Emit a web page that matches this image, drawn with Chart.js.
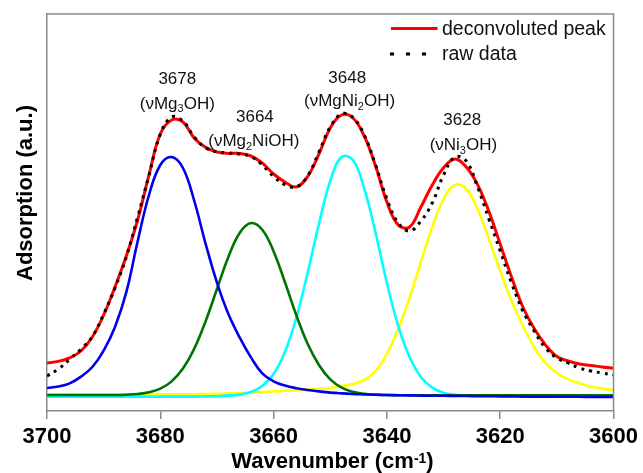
<!DOCTYPE html>
<html><head><meta charset="utf-8">
<script src="https://cdn.jsdelivr.net/npm/chart.js@4.4.1/dist/chart.umd.min.js"></script>
<style>html,body{margin:0;padding:0;background:#fff}#wrap{width:643px;height:473px}</style>
</head><body><div id="wrap"><canvas id="c" width="643" height="473"></canvas></div>
<script>
// ---- data (absorbance in a.u.) ----
const wavenumbers = [3700,3698,3696,3694,3692,3690,3688,3686,3684,3682,3680,3678,3676,3674,3672,3670,3668,3666,3664,3662,3660,3658,3656,3654,3652,3650,3648,3646,3644,3642,3640,3638,3636,3634,3632,3630,3628,3626,3624,3622,3620,3618,3616,3614,3612,3610,3608,3606,3604,3602,3600];
const rawData = [8.75,10.5,12.9,15.5,18.6,24.25,30.75,38.5,48.5,58.9,69.2,73.5,72.5,68.5,65.8,64.8,64.5,64.25,63.6,61.5,58.6,56.6,56,58.75,64.75,71,74.3,73.4,69,61.5,53,47,45,47.5,52,59,63.5,62.5,56,48,40,32,25,20,15.75,13.25,12,10.75,10,9.5,9];
const fitSum = [12,12.4,13.3,15.0,18.5,24.0,31.0,38.75,47.75,59,69.25,72.75,72.25,68.2,65.9,64.75,64.4,64.4,63.75,62,59.25,57.25,56,58.6,64.25,70.75,74,73.25,68.75,61.25,52.25,46.5,46,51,56.5,60.8,63,61,56.6,49.9,41.7,33.5,26,20.6,16.5,13.6,12.5,11.75,11.4,11,10.7];
const peakMg3OH = [5.75,6.1,6.9,8.6,11,15.1,21,29.7,42.4,54,61.5,63.5,60.75,52.5,41.8,32.1,24.3,18.4,13.4,9.4,7.4,6.35,5.7,5.25,4.9,4.6,4.4,4.25,4.15,4.05,4.0,3.95,3.9,3.85,3.8,3.8,3.75,3.75,3.7,3.7,3.65,3.65,3.6,3.6,3.6,3.55,3.55,3.55,3.5,3.5,3.5];
const peakMg2NiOH = [4.0,4.0,4.0,4.0,4.0,4.0,4.0,4.08,4.25,4.68,5.58,7.4,10.6,15.6,22.45,30.5,38.45,44.5,47,45.3,39.9,32.2,24,16.8,11.5,7.9,5.85,4.8,4.3,4.1,4.0,3.95,3.95,3.95,3.95,3.95,3.9,3.9,3.9,3.9,3.9,3.9,3.9,3.9,3.9,3.9,3.9,3.9,3.9,3.9,3.9];
const peakMgNi2OH = [3.6,3.6,3.6,3.6,3.6,3.6,3.6,3.6,3.6,3.6,3.6,3.6,3.6,3.6,3.65,3.7,3.85,4.1,4.75,6.25,9.25,14.75,23.25,34.5,46.75,57.5,63.5,62.75,55.6,44.5,32,21.25,13.5,8.5,5.85,4.55,4.05,3.9,3.75,3.75,3.75,3.75,3.75,3.75,3.75,3.75,3.75,3.75,3.75,3.75,3.75];
const peakNi3OH = [4.15,4.15,4.15,4.15,4.15,4.15,4.15,4.15,4.15,4.15,4.15,4.15,4.15,4.2,4.25,4.3,4.4,4.5,4.6,4.75,4.9,5.05,5.2,5.35,5.5,5.75,6.25,6.75,7.75,10,14.25,20.5,28.25,37.25,46,53,56.5,55.5,50.5,43,35,27.5,21.25,16,12,9.5,7.9,6.9,6.1,5.6,5.25];
const xTickValues = [3700,3680,3660,3640,3620,3600];
const peakPositions = ['3678','3664','3648','3628'];
const peakNames = [
  [['(νMg',0],['3',1],['OH)',0]],
  [['(νMg',0],['2',1],['NiOH)',0]],
  [['(νMgNi',0],['2',1],['OH)',0]],
  [['(νNi',0],['3',1],['OH)',0]]
];
// label anchors in data coordinates [wavenumber, a.u.] for number line and name line
const labelAnchors = [
  [[3677.0,83.2],[3677.0,77.1]],
  [[3663.3,73.75],[3663.5,67.75]],
  [[3647.0,83.4],[3646.6,77.75]],
  [[3626.7,73.0],[3626.5,66.75]]
];

const FONT = "'Liberation Sans', Arial, Helvetica, sans-serif";
Chart.defaults.font.family = FONT;
const pts = arr => arr.map((v,i)=>({x:wavenumbers[i], y:v}));

function drawRich(ctx, parts, cx, cy, size){
  const subSize = Math.round(size*0.65);
  let total = 0;
  const widths = parts.map(([t,sub])=>{ctx.font = (sub?subSize:size)+'px '+FONT; const w = ctx.measureText(t).width; total+=w; return w;});
  let x = cx - total/2;
  const base = cy + size*0.358;
  parts.forEach(([t,sub],i)=>{
    ctx.font = (sub?subSize:size)+'px '+FONT;
    ctx.fillText(t, x, sub ? base + size*0.22 : base);
    x += widths[i];
  });
}

const overlay = {
  id:'overlay',
  afterDraw(chart){
    const {ctx, chartArea:a, scales:{x,y}} = chart;
    ctx.save();
    // frame top/right
    ctx.strokeStyle = '#8a8a8a'; ctx.lineWidth = 1.5;
    ctx.beginPath();
    ctx.moveTo(a.left, a.top); ctx.lineTo(a.right, a.top); ctx.lineTo(a.right, a.bottom);
    ctx.stroke();
    // peak labels
    ctx.fillStyle = '#111'; ctx.textAlign = 'left'; ctx.textBaseline = 'alphabetic';
    peakPositions.forEach((p,i)=>{
      const [n, m] = labelAnchors[i];
      drawRich(ctx, [[p,0]], x.getPixelForValue(n[0]), y.getPixelForValue(n[1]), 17);
      drawRich(ctx, peakNames[i], x.getPixelForValue(m[0]), y.getPixelForValue(m[1]), 17);
    });
    // legend
    ctx.lineCap = 'butt';
    ctx.strokeStyle = '#ff0000'; ctx.lineWidth = 3;
    ctx.beginPath(); ctx.moveTo(391, 28.5); ctx.lineTo(437.5, 28.5); ctx.stroke();
    ctx.strokeStyle = '#000'; ctx.setLineDash([4,12]);
    ctx.beginPath(); ctx.moveTo(390, 54); ctx.lineTo(428, 54); ctx.stroke();
    ctx.setLineDash([]);
    ctx.fillStyle = '#111'; ctx.font = '19.5px '+FONT;
    ctx.fillText('deconvoluted peak', 442, 35);
    ctx.fillText('raw data', 442, 60);
    // axis titles
    ctx.fillStyle = '#000';
    ctx.font = 'bold 22px '+FONT;
    ctx.save();
    ctx.translate(31.5, 193); ctx.rotate(-Math.PI/2);
    ctx.textAlign = 'center';
    ctx.fillText('Adsorption (a.u.)', 0, 0);
    ctx.restore();
    const t1 = 'Wavenumber (cm', sup = '-1', t2 = ')';
    ctx.font = 'bold 22px '+FONT; const w1 = ctx.measureText(t1).width, w3 = ctx.measureText(t2).width;
    ctx.font = 'bold 14px '+FONT; const w2 = ctx.measureText(sup).width;
    let sx = 332.5 - (w1+w2+w3)/2;
    ctx.textAlign='left';
    ctx.font = 'bold 22px '+FONT; ctx.fillText(t1, sx, 468.3); sx += w1;
    ctx.font = 'bold 14px '+FONT; ctx.fillText(sup, sx, 462.5); sx += w2;
    ctx.font = 'bold 22px '+FONT; ctx.fillText(t2, sx, 468.3);
    ctx.restore();
  }
};

const lineDefaults = {pointRadius:0, tension:0.4, fill:false, borderJoinStyle:'round'};
new Chart(document.getElementById('c'), {
  type:'line',
  data:{datasets:[
    Object.assign({label:'raw data', data:pts(rawData), borderColor:'#000000', borderWidth:3, borderDash:[3,5], order:0}, lineDefaults),
    Object.assign({label:'deconvoluted peak', data:pts(fitSum), borderColor:'#ff0000', borderWidth:3, order:1}, lineDefaults),
    Object.assign({label:'νMg3OH', data:pts(peakMg3OH), borderColor:'#0000ee', borderWidth:2.6, order:2}, lineDefaults),
    Object.assign({label:'νMg2NiOH', data:pts(peakMg2NiOH), borderColor:'#007400', borderWidth:2.6, order:3}, lineDefaults),
    Object.assign({label:'νMgNi2OH', data:pts(peakMgNi2OH), borderColor:'#00ffff', borderWidth:2.6, order:4}, lineDefaults),
    Object.assign({label:'νNi3OH', data:pts(peakNi3OH), borderColor:'#ffff00', borderWidth:2.6, order:5}, lineDefaults)
  ]},
  options:{
    responsive:false, animation:false, devicePixelRatio:1,
    layout:{padding:{left:0,right:26,top:14,bottom:0}},
    plugins:{legend:{display:false}, tooltip:{enabled:false}},
    scales:{
      x:{type:'linear', reverse:true, min:3600, max:3700,
        afterBuildTicks(s){ s.ticks = xTickValues.map(v=>({value:v})); },
        ticks:{font:{size:22, weight:'bold'}, color:'#000', padding:5, maxRotation:0, autoSkip:false, callback:v=>String(v)},
        grid:{display:true, drawOnChartArea:false, drawTicks:true, tickLength:8, color:'#8a8a8a', lineWidth:1.5},
        border:{display:true, color:'#8a8a8a', width:1.5},
        afterFit(s){ s.height = 62; }
      },
      y:{min:0, max:99.25, ticks:{display:false}, grid:{display:false},
        border:{display:true, color:'#8a8a8a', width:1.5},
        afterFit(s){ s.width = 47; }
      }
    }
  },
  plugins:[overlay]
});
</script></body></html>
